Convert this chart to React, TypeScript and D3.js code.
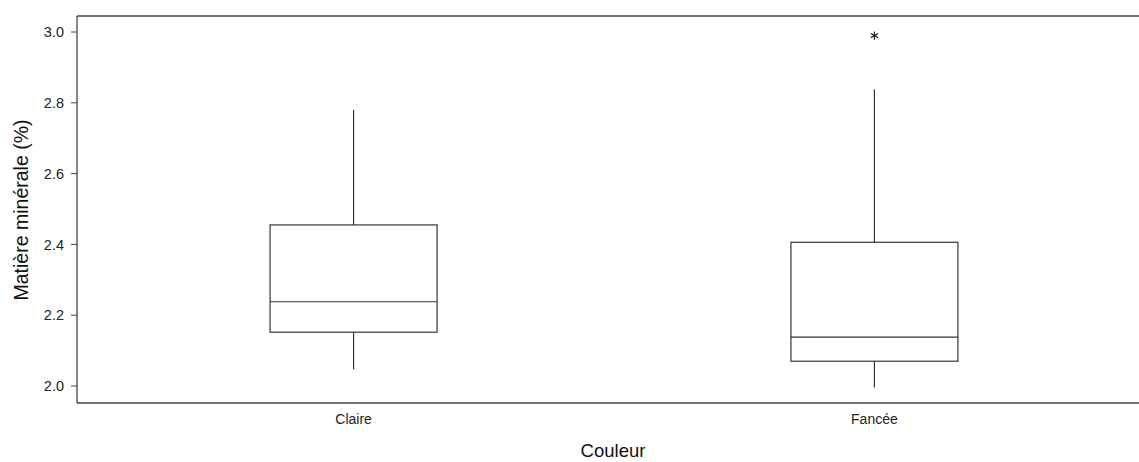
import React from "react";
import * as d3 from "d3";

const categories = ["Claire", "Fancée"];
const whiskerLow = [2.047, 1.996];
const q1 = [2.152, 2.07];
const median = [2.238, 2.138];
const q3 = [2.455, 2.406];
const whiskerHigh = [2.78, 2.838];
const outliers = [[], [2.99]];
const yTicks = [2.0, 2.2, 2.4, 2.6, 2.8, 3.0];

const W = 1139;
const H = 462;
const left = 77;
const top = 16;
const bottom = 403;
const rightExt = 1151;

export default function App() {
  const y = d3.scaleLinear().domain([2.0, 3.0]).range([386, 32]);
  const x = d3.scalePoint<string>().domain(categories).range([left, rightExt]).padding(0.531);
  const boxW = 167;
  const ink = "#333";
  const ast = d3.symbol().type(d3.symbolAsterisk).size(48)();

  return (
    <svg width={W} height={H} style={{ position: "absolute", left: 0, top: 0, background: "#fff" }}
      fontFamily="'Liberation Sans', Arial, sans-serif">
      <rect x={0} y={0} width={W} height={H} fill="#fff" />
      {/* frame */}
      <line x1={left} y1={top} x2={W} y2={top} stroke="#444" strokeWidth={1.3} />
      <line x1={left} y1={bottom} x2={W} y2={bottom} stroke="#444" strokeWidth={1.3} />
      <line x1={left} y1={top} x2={left} y2={bottom} stroke="#444" strokeWidth={1.3} />
      {/* y ticks */}
      {yTicks.map((t) => (
        <g key={t}>
          <line x1={left - 6} x2={left} y1={y(t)} y2={y(t)} stroke="#444" strokeWidth={1} />
          <text x={left - 13} y={y(t)} dy="0.36em" textAnchor="end" fontSize={14.5} fill="#222">
            {d3.format(".1f")(t)}
          </text>
        </g>
      ))}
      <text transform={`translate(28,210) rotate(-90)`} textAnchor="middle" fontSize={19.5} fill="#111">
        Matière minérale (%)
      </text>
      {/* x labels */}
      {categories.map((c) => (
        <text key={c} x={x(c)} y={424} textAnchor="middle" fontSize={14} fill="#222">
          {c}
        </text>
      ))}
      <text x={613} y={457} textAnchor="middle" fontSize={18.5} fill="#111">Couleur</text>
      {/* boxes */}
      {categories.map((c, i) => {
        const cx = x(c)!;
        return (
          <g key={c} stroke={ink} strokeWidth={1.2} fill="none">
            <line x1={cx} x2={cx} y1={y(whiskerHigh[i])} y2={y(q3[i])} />
            <line x1={cx} x2={cx} y1={y(q1[i])} y2={y(whiskerLow[i])} />
            <rect x={cx - boxW / 2} y={y(q3[i])} width={boxW} height={y(q1[i]) - y(q3[i])} />
            <line x1={cx - boxW / 2} x2={cx + boxW / 2} y1={y(median[i])} y2={y(median[i])} />
            {outliers[i].map((o, j) => (
              <path key={j} d={ast!} transform={`translate(${cx},${y(o)})`} stroke="#222" strokeWidth={1.2} />
            ))}
          </g>
        );
      })}
    </svg>
  );
}
